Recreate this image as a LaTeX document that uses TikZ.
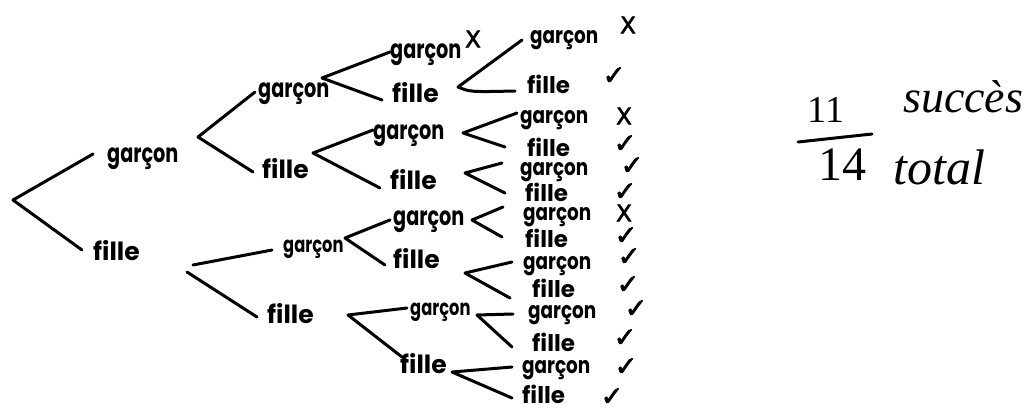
\documentclass[tikz,border=0pt]{standalone}
\usepackage{fontspec}
\setmainfont{Poppins}
\newfontfamily\gfont[FakeStretch=0.74]{Poppins}
\newfontfamily\gfontr[FakeStretch=0.8]{Poppins}
\newfontfamily\symfont[FakeBold=2.5]{DejaVu Sans}
\newfontfamily\handfont{Liberation Serif}
\begin{document}
\begin{tikzpicture}[x=1pt,y=-1pt,
  lbl/.style={inner sep=0pt, anchor=base west, text height=13pt, text depth=3pt},
  gl/.style={lbl, font={\gfont\fontsize{26}{26}\selectfont\bfseries}},
  gls/.style={lbl, font={\gfont\fontsize{22}{22}\selectfont\bfseries}},
  fl/.style={lbl, font={\fontsize{25}{25}\selectfont\bfseries}},
  glr/.style={lbl, font={\gfontr\fontsize{23}{23}\selectfont\bfseries}},
  flr/.style={lbl, font={\fontsize{23}{23}\selectfont\bfseries}},
  branch/.style={line width=3pt, line cap=round, line join=round},
  okmark/.style={inner sep=0pt, font={\symfont\fontsize{27}{27}\selectfont}},
  nomark/.style={inner sep=0pt, font={\symfont\fontsize{23}{23}\selectfont}},
  hand/.style={inner sep=0pt, anchor=base west, font={\handfont\itshape\fontsize{46}{46}\selectfont}},
  digits/.style={inner sep=0pt, font={\handfont\fontsize{38}{38}\selectfont}}]
\useasboundingbox (0,0) rectangle (1022,410);

% ---- labels ----
\node[gl] (g1) at (107,162) {garçon};
\node[fl] (f1) at (93,260) {fille};

\node[gl] (gg) at (258,97) {garçon};
\node[fl] (gf) at (262,178) {fille};
\node[gls] (fg) at (283,252) {garçon};
\node[fl] (ff) at (267,323) {fille};

\node[gl] (ggg) at (390,58) {garçon};
\node[fl] (ggf) at (392,102) {fille};
\node[gl] (gfg) at (373,139) {garçon};
\node[fl] (gff) at (390,189) {fille};
\node[gl] (fgg) at (393,225) {garçon};
\node[fl] (fgf) at (393,268) {fille};
\node[gls] (ffg) at (410,315) {garçon};
\node[fl] (fff) at (400,373) {fille};

\node[glr] (l1) at (530,43) {garçon};
\node[flr] (l2) at (527,93) {fille};
\node[glr] (l3) at (520,123) {garçon};
\node[flr] (l4) at (527,156) {fille};
\node[glr] (l5) at (520,175) {garçon};
\node[flr] (l6) at (525,201) {fille};
\node[glr] (l7) at (523,220) {garçon};
\node[flr] (l8) at (525,247) {fille};
\node[glr] (l9) at (523,269) {garçon};
\node[flr] (l10) at (532,297) {fille};
\node[glr] (l11) at (528,318) {garçon};
\node[flr] (l12) at (532,351) {fille};
\node[glr] (l13) at (522,373) {garçon};
\node[flr] (l14) at (522,403) {fille};

% ---- marks ----
\node[nomark] (mggg) at (473,39) {X};
\node[nomark] (m1) at (628,25) {X};
\node[okmark] (m2) at (614,76) {✓};
\node[nomark] (m3) at (624,116) {X};
\node[okmark] (m4) at (625,144) {✓};
\node[okmark] (m5) at (632,166) {✓};
\node[okmark] (m6) at (625,192) {✓};
\node[nomark] (m7) at (624,213) {X};
\node[okmark] (m8) at (626,236) {✓};
\node[okmark] (m9) at (629,257) {✓};
\node[okmark] (m10) at (628,285) {✓};
\node[okmark] (m11) at (636,309) {✓};
\node[okmark] (m12) at (625,338) {✓};
\node[okmark] (m13) at (626,367) {✓};
\node[okmark] (m14) at (612,397) {✓};

% ---- vertices ----
\coordinate (r) at (13,200);
\coordinate (vg1) at (198,137);
\coordinate (vf1a) at (193,265);
\coordinate (vf1b) at (187,272);
\coordinate (vgg) at (322,78);
\coordinate (vgf) at (313,153);
\coordinate (vfg) at (345,238);
\coordinate (vff) at (348,315);
\coordinate (vggf) at (458,87);
\coordinate (vgfg) at (463,133);
\coordinate (vgff) at (465,173);
\coordinate (vfgg) at (472,220);
\coordinate (vfgf) at (465,273);
\coordinate (vffg) at (477,315);
\coordinate (vfff) at (452,372);

% ---- connectors ----
\draw[branch] ([shift={(-14,-3)}]g1.west) -- (r) -- ([shift={(-11,-5)}]f1.west);
\draw[branch] ([shift={(-3,0)}]gg.west) -- (vg1) -- ([shift={(-9,-1)}]gf.west);
\draw[branch] (vf1a) -- ([shift={(-11,3)}]fg.west);
\draw[branch] (vf1b) -- ([shift={(-10,-1)}]ff.west);
\draw[branch] ([shift={(0,-1)}]ggg.west) -- (vgg) -- ([shift={(-10,3)}]ggf.west);
\draw[branch] ([shift={(0,-4)}]gfg.west) -- (vgf) -- ([shift={(-10,4)}]gff.west);
\draw[branch] ([shift={(-3,0)}]fgg.west) -- (vfg) -- ([shift={(-8,2)}]fgf.west);
\draw[branch] ([shift={(-3,-2)}]ffg.west) -- (vff) -- ([shift={(2,-11)}]fff.west);
\draw[branch] ([shift={(-8,2)}]l1.west) -- (vggf) .. controls (470,92) .. ([shift={(-12,3)}]l2.west);
\draw[branch] ([shift={(-3,-5)}]l3.west) -- (vgfg) -- ([shift={(-22,-4)}]l4.west);
\draw[branch] ([shift={(-18,-7)}]l5.west) -- (vgff) -- ([shift={(-20,-3)}]l6.west);
\draw[branch] ([shift={(-20,-8)}]l7.west) -- (vfgg) -- ([shift={(-23,-5)}]l8.west);
\draw[branch] ([shift={(-11,-2)}]l9.west) -- (vfgf) -- ([shift={(-22,6)}]l10.west);
\draw[branch] ([shift={(-15,1)}]l11.west) -- (vffg) -- ([shift={(-20,1)}]l12.west);
\draw[branch] ([shift={(-10,-1)}]l13.west) -- (vfff) -- ([shift={(-10,0)}]l14.west);

% ---- result ----
\node[digits] (n11) at (826,110) {11};
\node[digits, font={\handfont\fontsize{48}{48}\selectfont}] (n14) at (842,165) {14};
\draw[line width=3pt, line cap=round] (798,142) -- (872,134);
\node[hand] (succ) at (903,112) {succès};
\node[hand, font={\handfont\itshape\fontsize{50}{50}\selectfont}] (tot) at (893,184) {total};
\end{tikzpicture}
\end{document}
